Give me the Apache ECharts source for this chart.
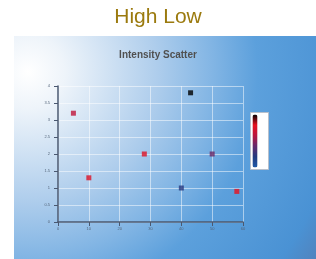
<!DOCTYPE html>
<html>
<head>
<meta charset="utf-8">
<script src="https://cdn.jsdelivr.net/npm/echarts@6/dist/echarts.min.js"></script>
<style>
html, body { margin: 0; padding: 0; background: #fff; }
#chart { width: 316px; height: 259px; }
</style>
</head>
<body>
<div id="chart"></div>
<script>
var xValues = [5, 10, 28, 43, 50, 40, 58];
var yValues = [3.2, 1.3, 2.0, 3.8, 2.0, 1.0, 0.9];
var intensity = [6.3, 7.5, 7.6, 10, 4.2, 2.2, 8.0];
var xTicks = [0, 10, 20, 30, 40, 50, 60];
var yTicks = [0, 0.5, 1, 1.5, 2, 2.5, 3, 3.5, 4];

var chart = echarts.init(document.getElementById("chart"));

var points = [];
for (var i = 0; i < xValues.length; i++) {
    points.push([xValues[i], yValues[i], intensity[i]]);
}

var option = {
    animation: false,
    title: [{
        text: 'High Low',
        left: 'center',
        top: 2,
        textStyle: { color: '#9b7a0e', fontSize: 21, fontWeight: 'normal', fontFamily: 'Liberation Sans, Arial' }
    }, {
        text: 'Intensity Scatter',
        left: 'center',
        top: 45,
        textStyle: { color: '#505050', fontSize: 10, fontWeight: 'bold', fontFamily: 'Liberation Sans, Arial' }
    }],
    graphic: [{
        type: 'rect',
        left: 14,
        top: 36,
        z: -10,
        shape: { width: 302, height: 223 },
        style: {
            // radial fade from the top left corner, in page pixels
            fill: new echarts.graphic.RadialGradient(14, 36, 370, [
                { offset: 0, color: '#ffffff' },
                { offset: 0.1, color: '#eef4fa' },
                { offset: 0.35, color: '#aecdec' },
                { offset: 0.5, color: '#82b5e4' },
                { offset: 0.62, color: '#5ca0dc' },
                { offset: 0.85, color: '#4a92d4' },
                { offset: 1, color: '#5676aa' }
            ], true)
        }
    }],
    grid: { left: 58, right: 73, top: 86, bottom: 37 },
    xAxis: {
        type: 'value',
        min: xTicks[0],
        max: xTicks[xTicks.length - 1],
        interval: 10,
        axisLine: { show: true, lineStyle: { color: '#4a5870', width: 1.5 } },
        axisTick: { show: true, length: 4, lineStyle: { color: '#4a5870' } },
        axisLabel: { fontSize: 4, color: '#55657a', margin: 5 },
        splitLine: { show: true, lineStyle: { color: 'rgba(255,255,255,0.5)', width: 1 } }
    },
    yAxis: {
        type: 'value',
        min: yTicks[0],
        max: yTicks[yTicks.length - 1],
        interval: 0.5,
        axisLine: { show: true, lineStyle: { color: '#4a5870', width: 1.5 } },
        axisTick: { show: true, length: 4, lineStyle: { color: '#4a5870' } },
        axisLabel: { fontSize: 4, color: '#55657a', margin: 8 },
        splitLine: { show: true, lineStyle: { color: 'rgba(255,255,255,0.5)', width: 1 } }
    },
    visualMap: {
        type: 'continuous',
        min: 0,
        max: 10,
        dimension: 2,
        calculable: false,
        hoverLink: false,
        left: 250,
        top: 112,
        itemWidth: 5,
        itemHeight: 53,
        text: ['', ''],
        padding: [2, 11, 2, 2],
        backgroundColor: '#ffffff',
        borderColor: '#b8c0cc',
        borderWidth: 1,
        inRange: { color: ['#1f5aa8', '#223a80', '#642a6c', '#b8163e', '#e8101e', '#000000'] }
    },
    series: [{
        type: 'scatter',
        symbol: 'rect',
        symbolSize: 5,
        data: points
    }]
};

chart.setOption(option);
</script>
</body>
</html>
